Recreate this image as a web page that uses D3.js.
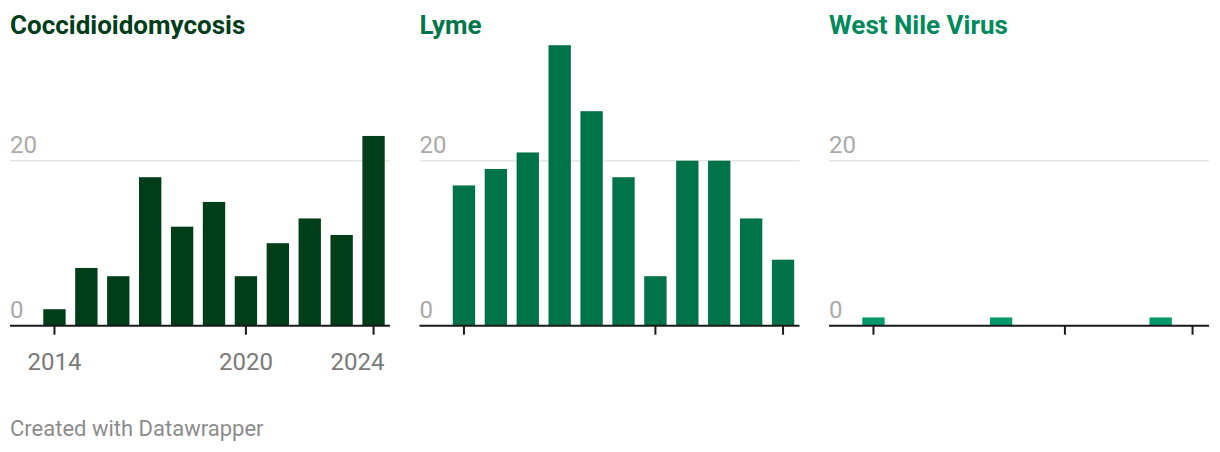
<!DOCTYPE html>
<html>
<head>
<meta charset="utf-8">
<script src="https://cdn.jsdelivr.net/npm/d3@7"></script>
<style>
  html, body { margin: 0; padding: 0; background: #fff; }
  svg { display: block; font-family: Roboto, "Noto Sans", sans-serif; }
</style>
</head>
<body>
<svg id="chart" width="1220" height="452"></svg>
<script>
const years = [2014, 2015, 2016, 2017, 2018, 2019, 2020, 2021, 2022, 2023, 2024];
const coccidioidomycosis = [2, 7, 6, 18, 12, 15, 6, 10, 13, 11, 23];
const lyme = [17, 19, 21, 34, 26, 18, 6, 20, 20, 13, 8];
const westNile = [1, 0, 0, 0, 1, 0, 0, 0, 0, 1, 0];
const titles = ["Coccidioidomycosis", "Lyme", "West Nile Virus"];
const yTicks = [0, 20];
const xTicks = [2014, 2020, 2024];
const footer = "Created with Datawrapper";

const panels = [
  { title: titles[0], values: coccidioidomycosis, color: "#003d19", titleColor: "#003d19", x0: 10, labels: true },
  { title: titles[1], values: lyme, color: "#00734a", titleColor: "#00774b", x0: 419.5, labels: false },
  { title: titles[2], values: westNile, color: "#009a6a", titleColor: "#00895a", x0: 829, labels: false }
];

const svg = d3.select("#chart");
const W = 380;
const y = d3.scaleLinear().domain([0, 20]).range([325.7, 160.7]);

panels.forEach(p => {
  const g = svg.append("g");
  const x = d3.scaleBand().domain(years).range([p.x0 + 28.5, p.x0 + 379.5]).paddingInner(0.3).paddingOuter(0.15);

  g.append("text").attr("x", p.x0).attr("y", 34)
    .attr("font-size", 26).attr("font-weight", 700).attr("fill", p.titleColor)
    .text(p.title);

  g.selectAll("line.grid").data(yTicks.filter(t => t !== 0)).join("line")
    .attr("x1", p.x0).attr("x2", p.x0 + W)
    .attr("y1", d => y(d)).attr("y2", d => y(d))
    .attr("stroke", "#e5e5e5").attr("stroke-width", 1.5);

  g.selectAll("text.ylab").data(yTicks).join("text")
    .attr("x", p.x0).attr("y", d => y(d) - 8)
    .attr("font-size", 24).attr("fill", "#aaaaaa")
    .text(d => d);

  g.selectAll("rect").data(years.map((yr, i) => ({ yr, v: p.values[i] })).filter(d => d.v > 0)).join("rect")
    .attr("x", d => x(d.yr)).attr("width", x.bandwidth())
    .attr("y", d => y(d.v)).attr("height", d => y(0) - y(d.v))
    .attr("fill", p.color);

  const axis = d3.axisBottom(x).tickValues(xTicks).tickSize(9).tickSizeOuter(0)
    .tickFormat(p.labels ? d => d : () => "");
  const ag = g.append("g").attr("transform", `translate(0,${y(0)})`).call(axis);
  ag.select(".domain").attr("d", `M${p.x0},0H${p.x0 + W}`).attr("stroke", "#1a1a1a").attr("stroke-width", 2);
  ag.selectAll(".tick line").attr("stroke", "#1a1a1a").attr("stroke-width", 2);
  ag.selectAll(".tick text").attr("font-size", 24).attr("fill", "#7a7a7a")
    .attr("font-family", "Roboto, sans-serif").attr("dy", 0).attr("y", 44)
    .attr("text-anchor", d => d === xTicks[xTicks.length - 1] ? "end" : "middle")
    .attr("dx", d => d === xTicks[xTicks.length - 1] ? 11 : 0);
});

svg.append("text").attr("x", 10).attr("y", 436)
  .attr("font-size", 22).attr("fill", "#8c8c8c").text(footer);
</script>
</body>
</html>
